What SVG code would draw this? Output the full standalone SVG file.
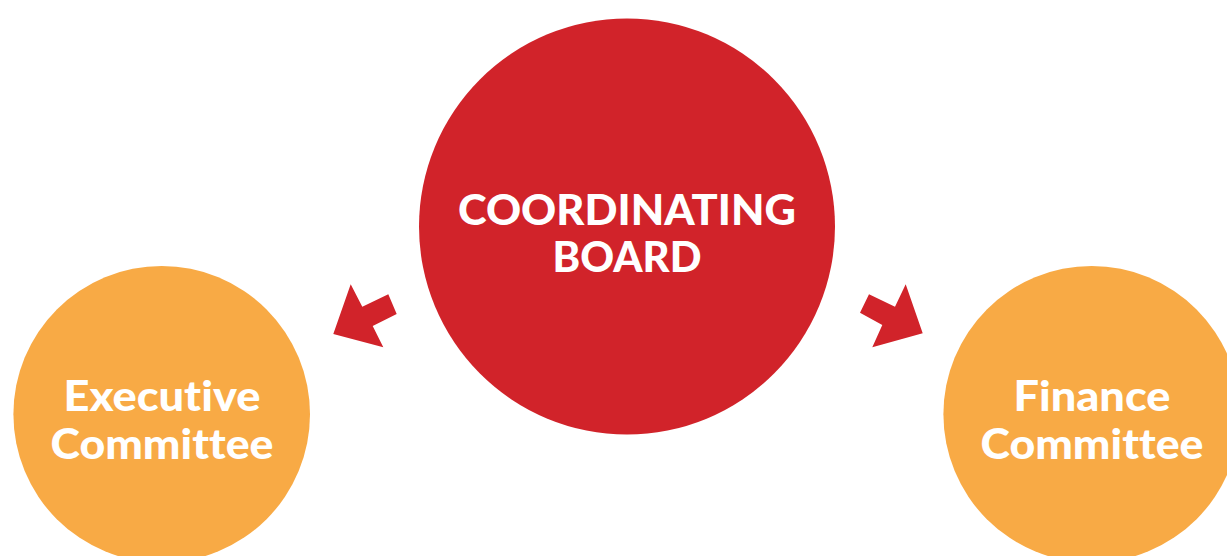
<svg xmlns="http://www.w3.org/2000/svg" width="1227" height="556" viewBox="0 0 1227 556">
<style>
.lbl{font-family:Lato,"Liberation Sans",Arial,sans-serif;font-weight:900;fill:#ffffff;text-anchor:middle;font-size:42px;font-variant-ligatures:none;font-feature-settings:"liga" 0,"dlig" 0}
.red{fill:#D1232A}
.orange{fill:#F8AA45}
</style>
<rect width="1227" height="556" fill="#ffffff"/>
<g id="coordinating-board">
<circle class="red" cx="627" cy="226.5" r="208"/>
<text class="lbl" x="627" y="225" textLength="338" lengthAdjust="spacingAndGlyphs">COORDINATING</text>
<text class="lbl" x="627" y="272" textLength="149" lengthAdjust="spacingAndGlyphs">BOARD</text>
</g>
<g id="executive-committee">
<circle class="orange" cx="161.7" cy="414.3" r="148.3"/>
<text class="lbl" x="162" y="411" textLength="197" lengthAdjust="spacingAndGlyphs">Executive</text>
<text class="lbl" x="162" y="459" textLength="223" lengthAdjust="spacingAndGlyphs">Committee</text>
</g>
<g id="finance-committee">
<circle class="orange" cx="1091.7" cy="414.3" r="148.3"/>
<text class="lbl" x="1092" y="411" textLength="157" lengthAdjust="spacingAndGlyphs">Finance</text>
<text class="lbl" x="1092" y="459" textLength="223" lengthAdjust="spacingAndGlyphs">Committee</text>
</g>
<g id="connectors">
<polygon class="red" points="333.3,334 350.7,284.3 362.3,306.7 388.3,294.3 396.7,314 372.7,326 383.3,347.3"/>
<polygon class="red" points="922.7,333.3 905.7,284.3 895,306.7 869,294.3 860,312.7 882.3,325 872.3,347.3"/>
</g>
</svg>
